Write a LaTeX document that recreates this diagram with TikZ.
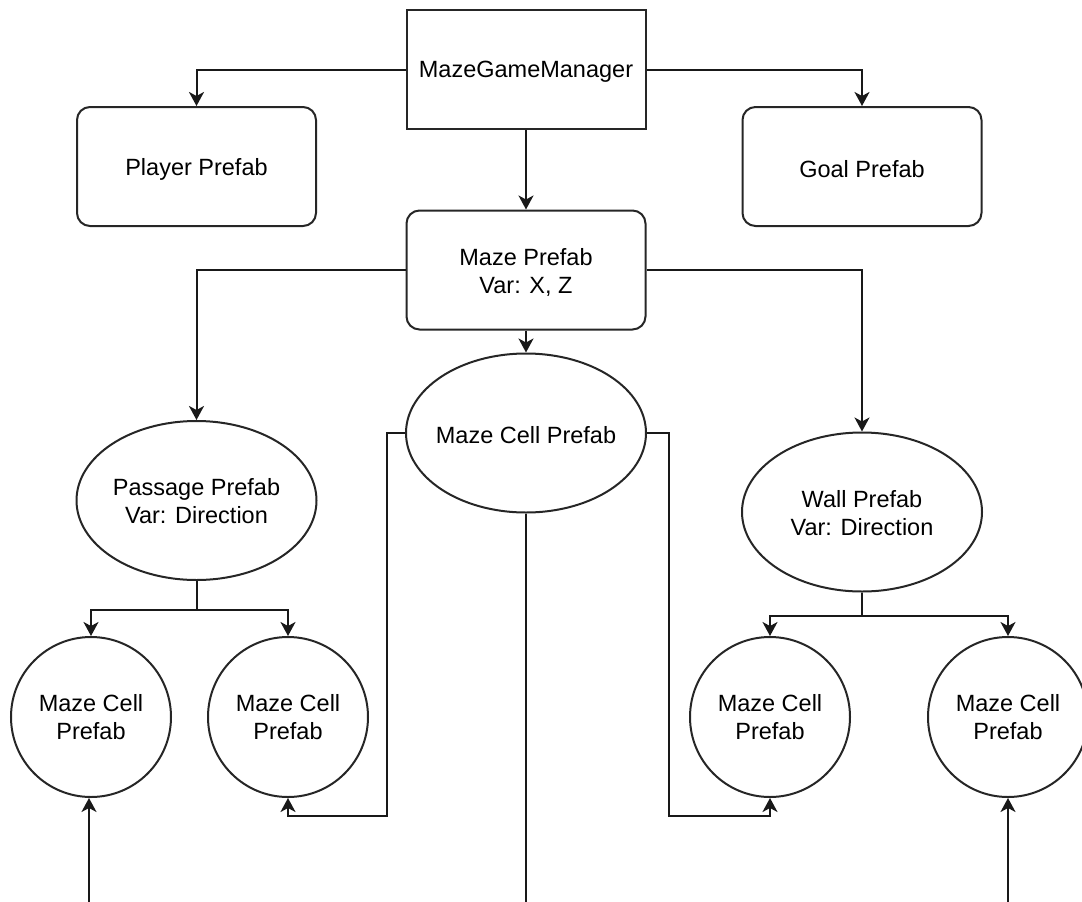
\documentclass[tikz,border=0pt]{standalone}
\usepackage{fontspec}
\setmainfont{Liberation Sans}
\usetikzlibrary{shapes.geometric,arrows.meta}
\begin{document}
\begin{tikzpicture}[x=1pt,y=-1pt,
  every node/.style={font=\fontsize{23.5}{28}\selectfont, align=center, inner sep=0pt, line width=2pt, draw=black!85},
  txt/.style={draw=none, align=center, yshift=-2.5pt},
  sqbox/.style={rectangle, minimum width=239pt, minimum height=119pt},
  rbox/.style={rectangle, rounded corners=13pt, minimum width=239pt, minimum height=119pt},
  ell/.style={ellipse, minimum width=240pt, minimum height=159pt},
  circ/.style={circle, minimum size=160pt},
  conn/.style={line width=2pt, draw=black!90},
  arr/.style={conn, -{Stealth[length=14pt,width=15pt,inset=4pt]}}
]
\useasboundingbox (0,0) rectangle (1082,902);
\clip (0,0) rectangle (1082,902);
\node[sqbox, label={[txt]center:MazeGameManager}] (mgm) at (526,69.5) {};
\node[rbox, label={[txt]center:Player Prefab}] (player) at (196.5,166.5) {};
\node[rbox, label={[txt]center:Goal Prefab}] (goal) at (862,166.5) {};
\node[rbox, label={[txt]center:Maze Prefab\\Var: X, Z}] (maze) at (526,270) {};
\node[ell, label={[txt]center:Maze Cell Prefab}] (cell) at (526,433) {};
\node[ell, label={[txt,yshift=1.5pt]center:Passage Prefab\\Var: Direction}] (passage) at (196.5,500.5) {};
\node[ell, label={[txt,yshift=1.5pt]center:Wall Prefab\\Var: Direction}] (wall) at (862,512) {};
\node[circ] (c1) at (91,717) {Maze Cell\\Prefab};
\node[circ] (c2) at (288,717) {Maze Cell\\Prefab};
\node[circ] (c3) at (770,717) {Maze Cell\\Prefab};
\node[circ] (c4) at (1008,717) {Maze Cell\\Prefab};

\coordinate (pj) at (196.5,610);
\coordinate (wj) at (862,616);
\coordinate (lA) at (387,816);
\coordinate (rA) at (669,816);
\coordinate (cellEnd) at (526,902);
\coordinate (b1) at (89,902);
\coordinate (b4) at (1008,902);

\draw[arr] (mgm.west) -| (player.north);
\draw[arr] (mgm.east) -| (goal.north);
\draw[arr] (mgm.south) -- (maze.north);
\draw[arr] (maze.west) -| (passage.north);
\draw[arr] (maze.east) -| (wall.north);
\draw[arr] (maze.south) -- (cell.north);
\draw[conn] (passage.south) -- (pj);
\draw[arr] (pj) -| (c1.north);
\draw[arr] (pj) -| (c2.north);
\draw[conn] (wall.south) -- (wj);
\draw[arr] (wj) -| (c3.north);
\draw[arr] (wj) -| (c4.north);
\draw[arr] (cell.west) -| (lA) -| (c2.south);
\draw[arr] (cell.east) -| (rA) -| (c3.south);
\draw[conn] (cell.south) -- (cellEnd);
\draw[arr] (b1) -- (b1 |- c1.south);
\draw[arr] (b4) -- (c4.south);
\end{tikzpicture}
\end{document}
